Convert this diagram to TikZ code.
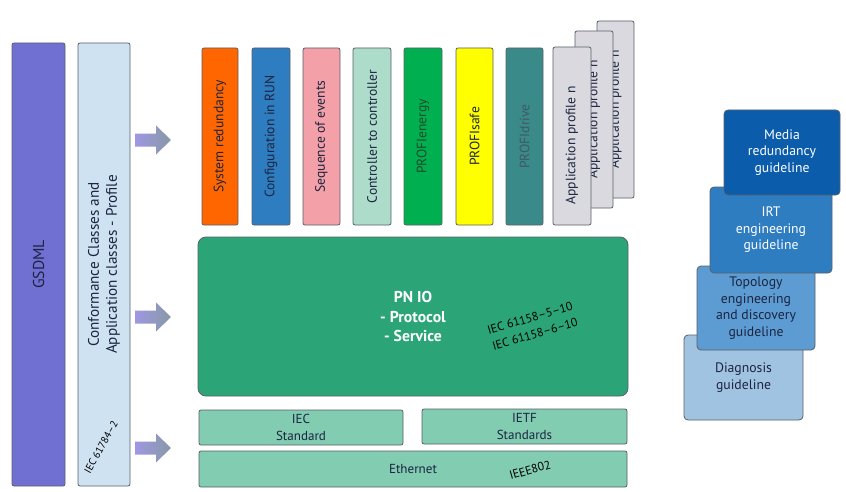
\documentclass[tikz,border=0pt]{standalone}
\usepackage{fontspec}
\setmainfont{PT Sans}
\definecolor{bordergray}{HTML}{5A6068}
\definecolor{cgsdml}{HTML}{7070D2}
\definecolor{cconf}{HTML}{CFE2F1}
\definecolor{corange}{HTML}{FF6600}
\definecolor{cblue}{HTML}{2E7DC0}
\definecolor{cpink}{HTML}{F4A0A8}
\definecolor{cmint}{HTML}{ADDDCA}
\definecolor{cgreen}{HTML}{00B050}
\definecolor{cyellow}{HTML}{FFFF00}
\definecolor{cteal}{HTML}{3B8A8A}
\definecolor{cgray}{HTML}{D9D9DF}
\definecolor{cpnio}{HTML}{2BA577}
\definecolor{clight}{HTML}{82CCB1}
\definecolor{cmedia}{HTML}{0B5CAA}
\definecolor{cirt}{HTML}{2F7DC1}
\definecolor{ctopo}{HTML}{5D9CD2}
\definecolor{cdiag}{HTML}{A0C3E1}
\definecolor{ctext}{HTML}{1C2440}
\definecolor{cenergytext}{HTML}{1C4A2A}
\definecolor{cdrivetext}{HTML}{3E5A62}
\definecolor{carrowL}{HTML}{9E98E2}
\definecolor{carrowR}{HTML}{8898A6}
\newcommand\mkbox[7]{%
  \node[box,#6,minimum width={(#4-#2)*0.75pt},minimum height={(#5-#3)*0.75pt}] (#1) at ({(#2+#4)/2},{(#3+#5)/2}) {#7};}
\newcommand\mkrbox[7]{%
  \node[box,#6,rotate=90,minimum width={(#5-#3)*0.75pt},minimum height={(#4-#2)*0.75pt}] (#1) at ({(#2+#4)/2},{(#3+#5)/2}) {#7};}
\newcommand\mkarrow[1]{%
  \path[blockarrow] (135,#1-6.5) -- (156,#1-6.5) -- (156,#1-14.5) -- (171,#1) -- (156,#1+14.5) -- (156,#1+6.5) -- (135,#1+6.5) -- cycle;}
\begin{document}
\begin{tikzpicture}[x=0.75pt,y=-0.75pt,
  box/.style={draw=bordergray, line width=0.6pt, inner sep=0pt, rounded corners=1.5pt, align=center, text=ctext},
  toptext/.style={font=\fontsize{10.2}{12}\selectfont},
  guide/.style={font=\fontsize{10.3}{12.4}\selectfont, rounded corners=3pt},
  stdtext/.style={font=\fontsize{9.8}{12.2}\selectfont},
  blockarrow/.style={left color=carrowL, right color=carrowR, draw=none},
  tilted/.style={font=\fontsize{9}{11.5}\selectfont, rotate=16, text=black, inner sep=0pt}]
\useasboundingbox[fill=white] (0,0) rectangle (846,492);

% left columns
\mkrbox{gsdml}{12}{43}{65}{486}{fill=cgsdml, font=\fontsize{11.8}{14}\selectfont}{GSDML}
\mkrbox{conf}{78}{43}{130}{486}{fill=cconf, font=\fontsize{11.4}{13.6}\selectfont}{Conformance Classes and\\Application classes - Profile}
\node[font=\fontsize{7.8}{9}\selectfont, rotate=61, inner sep=0pt, text=black] (iec61784) at (101,447) {IEC 61784–2};

% arrows
\mkarrow{140}
\mkarrow{317}
\mkarrow{448}

% top profile columns
\mkrbox{sysred}{202}{48}{238}{225}{fill=corange, toptext}{System redundancy}
\mkrbox{cir}{252}{48}{290}{225}{fill=cblue, toptext}{Configuration in RUN}
\mkrbox{soe}{303}{48}{340}{225}{fill=cpink, toptext}{Sequence of events}
\mkrbox{c2c}{353}{48}{391}{225}{fill=cmint, toptext}{Controller to controller}
\mkrbox{penergy}{404}{48}{442}{225}{fill=cgreen, toptext, text=cenergytext}{PROFIenergy}
\mkrbox{psafe}{456}{48}{493}{225}{fill=cyellow, toptext}{PROFIsafe}
\mkrbox{pdrive}{506}{48}{543}{225}{fill=cteal, toptext, text=cdrivetext}{PROFIdrive}
\mkrbox{app3}{597}{21}{634}{198}{fill=cgray, toptext}{Application profile n}
\mkrbox{app2}{575}{31}{613}{208}{fill=cgray, toptext}{Application profile n}
\mkrbox{app1}{553}{47}{591}{225}{fill=cgray, toptext}{Application profile n\hspace*{14pt}}

% PN IO
\mkbox{pnio}{198}{237}{628}{396}{fill=cpnio, rounded corners=6pt, text=white, font=\bfseries\fontsize{11.8}{14.3}\selectfont}{PN IO\\- Protocol\\- Service}
\node[tilted] (iec5) at (530,318) {IEC 61158–5–10};
\node[tilted] (iec6) at (535,334) {IEC 61158–6–10};

% standards
\mkbox{iec}{199}{410}{403}{445}{fill=clight, stdtext}{IEC\\Standard}
\mkbox{ietf}{422}{409}{627}{444}{fill=clight, stdtext}{IETF\\Standards}
\mkbox{eth}{199}{451}{627}{487}{fill=clight, stdtext}{Ethernet}
\node[tilted] (ieee) at (530,470) {IEEE802};

% guidelines
\mkbox{diag}{684}{335}{803}{420}{fill=cdiag, guide}{Diagnosis\\guideline}
\mkbox{topo}{697}{266}{815}{350}{fill=ctopo, guide}{Topology\\engineering\\and discovery\\guideline}
\mkbox{irt}{710}{187}{832}{273}{fill=cirt, guide, text=white}{IRT\\engineering\\guideline}
\mkbox{media}{724}{110}{840}{195}{fill=cmedia, guide, text=white}{Media\\redundancy\\guideline}
\end{tikzpicture}
\end{document}
